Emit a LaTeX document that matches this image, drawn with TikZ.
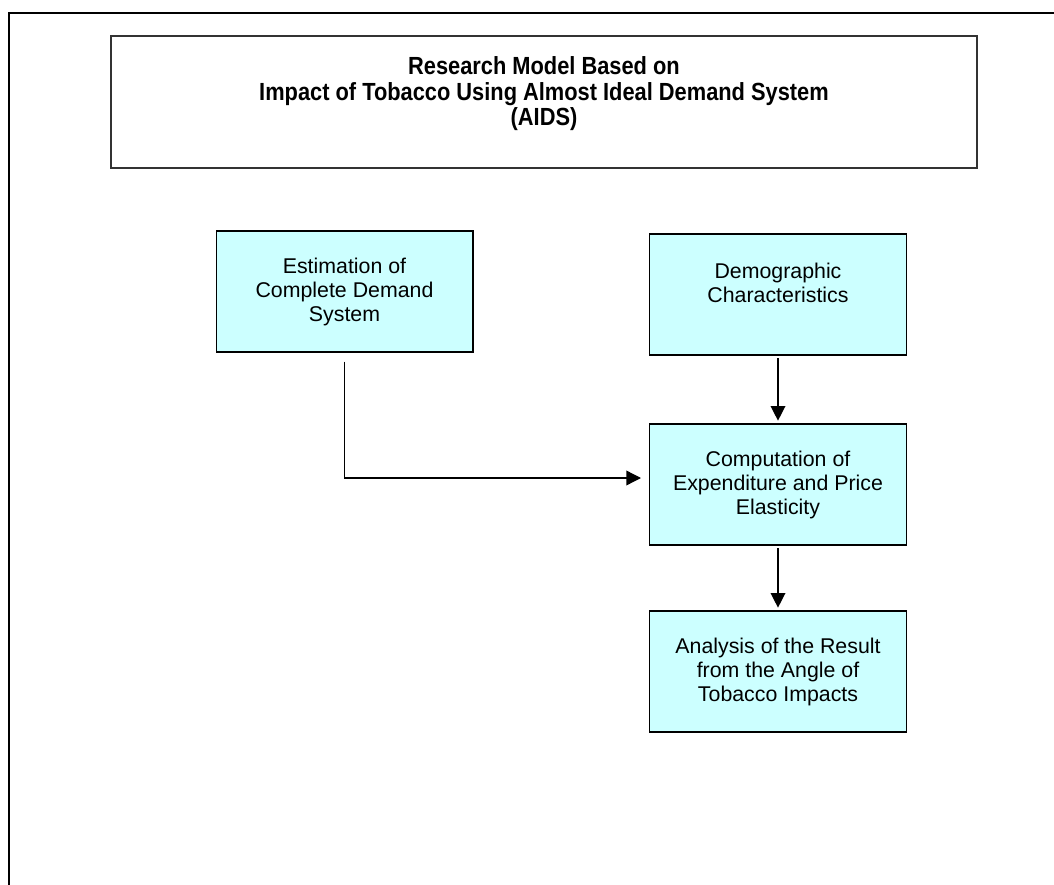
\documentclass[tikz,border=0pt]{standalone}
\usepackage{fontspec}
\setmainfont{Liberation Sans}
\newfontfamily\titlefont{Liberation Sans}[FakeStretch=0.88]
\usetikzlibrary{arrows.meta, positioning}
\tikzset{
	stage/.style={draw=black, line width=1pt, fill=BoxCyan, minimum width=192.5pt, minimum height=90.75pt, align=center, inner sep=0pt, font=\fontsize{16}{18}\selectfont},
	flow/.style={line width=1pt, -{Triangle[length=11pt, width=11pt]}}
}
\definecolor{BoxCyan}{HTML}{CCFFFF}
\definecolor{FrameGray}{HTML}{333333}

\begin{document}
\begin{tikzpicture}[x=0.75pt, y=-0.75pt]
	\useasboundingbox (0,0) rectangle (1054,885);
	
	\draw[line width=1.5pt] (9,885) -- (9,12.7) -- (1054,12.7);
	
	\node[draw=FrameGray, line width=1pt, minimum width=649.5pt, minimum height=99pt] (banner) at (544,102) {};
	\node[align=center, font=\titlefont\bfseries\fontsize{18.6}{19.1}\selectfont] (title) at (544,94) {Research Model Based on\\Impact of Tobacco Using Almost Ideal Demand System\\(AIDS)};
	
	\node[stage] (estimation) at (344.5,291.5) {Estimation of\\Complete Demand\\System};
	\node[stage] (demographic) at (778,294.5) {Demographic\\Characteristics\\\mbox{}};
	\node[stage] (computation) at (778,484.5) {Computation of\\Expenditure and Price\\Elasticity};
	\node[stage] (analysis) at (778,671.5) {Analysis of the Result\\from the Angle of\\Tobacco Impacts};
	
	\draw[flow] ([shift={(0,9)}]estimation.south) |- ([shift={(-8,-6.5)}]computation.west);
	\draw[flow, shorten <=2pt, shorten >=2pt] (demographic) -- (computation);
	\draw[flow, shorten <=2pt, shorten >=2pt] (computation) -- (analysis);
\end{tikzpicture}
\end{document}
